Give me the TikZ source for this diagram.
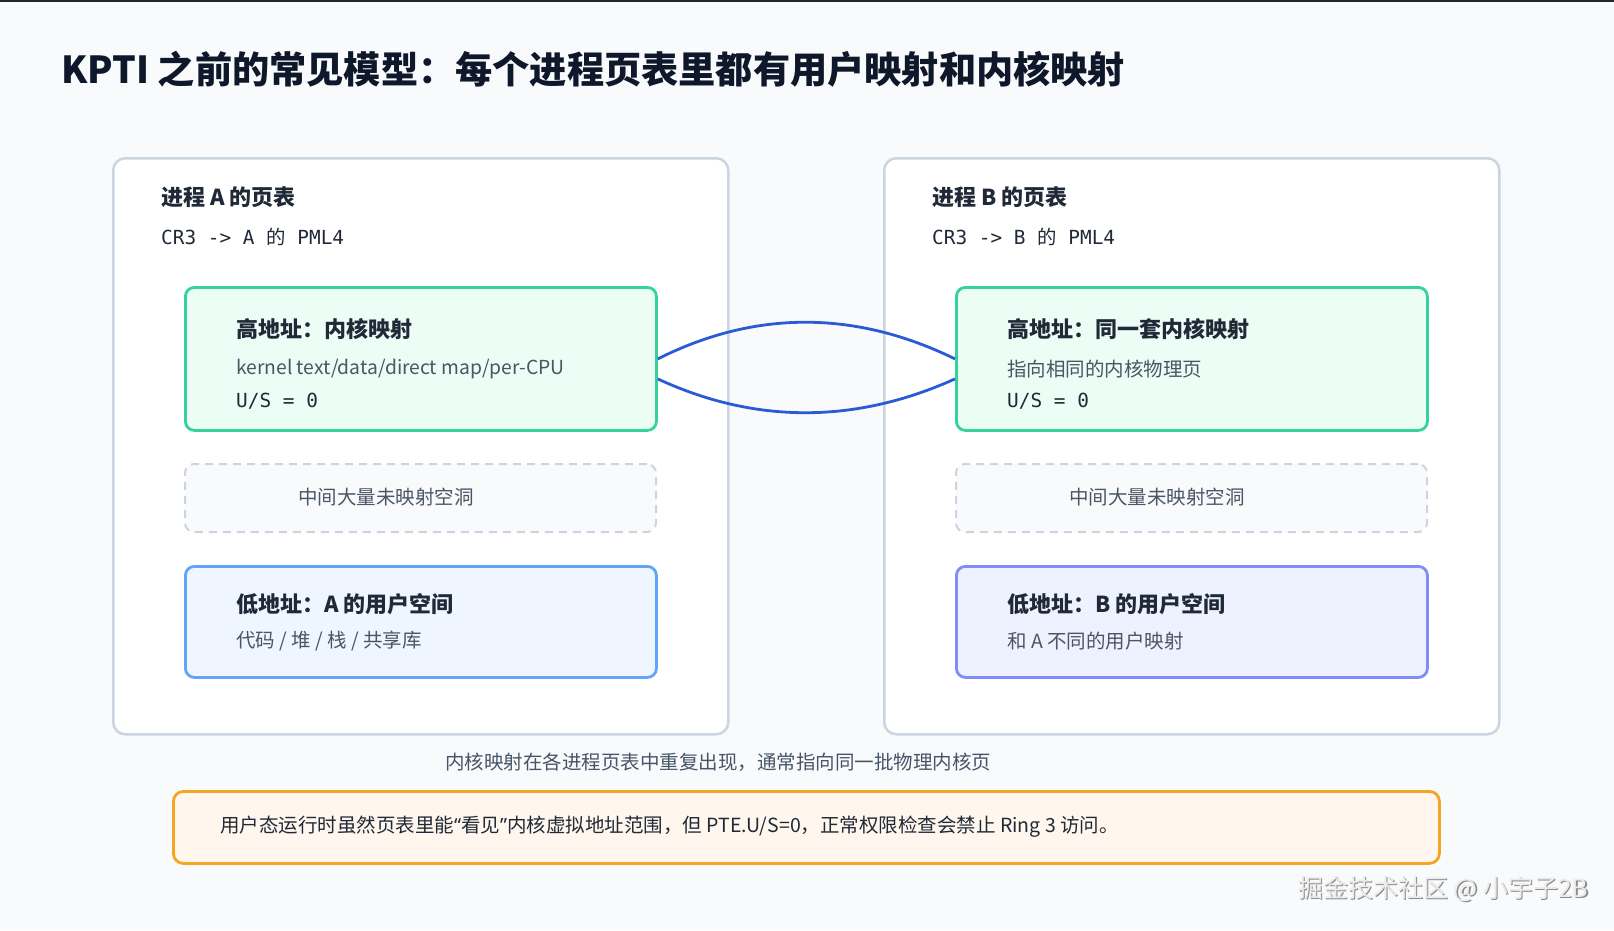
\documentclass[tikz,border=0pt]{standalone}
\usepackage{fontspec}
\setmainfont{Noto Sans CJK SC}
\newfontfamily\monof{DejaVu Sans Mono}
\newfontfamily\latinf{Noto Sans}
\definecolor{bg}{HTML}{F8FAFC}
\definecolor{panelborder}{HTML}{CBD5E1}
\definecolor{titlec}{HTML}{0F172A}
\definecolor{headc}{HTML}{1F2937}
\definecolor{subc}{HTML}{4B5563}
\definecolor{greenfill}{HTML}{ECFDF5}
\definecolor{greenline}{HTML}{34D399}
\definecolor{bluefill}{HTML}{EFF6FF}
\definecolor{blueline}{HTML}{60A5FA}
\definecolor{purplefill}{HTML}{EEF2FF}
\definecolor{purpleline}{HTML}{818CF8}
\definecolor{orangefill}{HTML}{FFF7ED}
\definecolor{orangeline}{HTML}{F5A524}
\definecolor{curvec}{HTML}{2A5BD7}
\definecolor{capc}{HTML}{475569}
\begin{document}
\begin{tikzpicture}[x=1pt,y=-1pt,
  panel/.style={draw=panelborder,line width=2.5pt,fill=white,rounded corners=12pt,anchor=north west,inner sep=0pt},
  region/.style={line width=2.8pt,rounded corners=9pt,anchor=north west,inner sep=0pt,minimum width=471pt},
  hole/.style={draw=panelborder,line width=2pt,dash pattern=on 8pt off 6pt,fill=bg,rounded corners=9pt,anchor=north west,inner sep=0pt,minimum width=471pt,minimum height=68pt},
  txt/.style={anchor=west,inner sep=0pt},
  ptitle/.style={txt,text=headc,font=\fontsize{22}{26}\selectfont\bfseries},
  mono/.style={txt,text=headc,font=\fontsize{19.4}{23}\selectfont\monof},
  sub/.style={txt,text=subc,font=\fontsize{19.5}{23}\selectfont},
  curve/.style={draw=curvec,line width=2.8pt}]
\useasboundingbox (0,0) rectangle (1614,930);
\fill[bg] (0,0) rectangle (1614,930);
\fill[black!85] (0,0) rectangle (1614,2);
% title
\node[txt,text=titlec,font=\fontsize{37.2}{44}\selectfont\bfseries] (title) at (61,69) {KPTI 之前的常见模型：每个进程页表里都有用户映射和内核映射};
% panels
\node[panel,minimum width=615pt,minimum height=576pt] (pa) at (112,157) {};
\node[panel,minimum width=615pt,minimum height=576pt] (pb) at (883,157) {};
\node[ptitle] (pat) at (161,197) {进程 A 的页表};
\node[mono] (pam) at (161,237) {CR3 -> A {\rmfamily 的} PML4};
\node[ptitle] (pbt) at (932,197) {进程 B 的页表};
\node[mono] (pbm) at (932,237) {CR3 -> B {\rmfamily 的} PML4};
% high regions
\node[region,draw=greenline,fill=greenfill,minimum height=143pt] (ga) at (184,286) {};
\node[region,draw=greenline,fill=greenfill,minimum height=143pt] (gb) at (955,286) {};
\node[ptitle] (gat) at (236,329) {高地址：内核映射};
\node[sub,font=\fontsize{19.3}{23}\selectfont] (gas) at (236,369) {kernel text/data/direct map/per-CPU};
\node[mono] (gau) at (236,401) {U/S = 0};
\node[ptitle] (gbt) at (1007,329) {高地址：同一套内核映射};
\node[sub] (gbs) at (1007,369) {指向相同的内核物理页};
\node[mono] (gbu) at (1007,401) {U/S = 0};
% holes
\node[hole] (ha) at (184,463) {};
\node[hole] (hb) at (955,463) {};
\node[sub] (hat) at (298,497) {中间大量未映射空洞};
\node[sub] (hbt) at (1069,497) {中间大量未映射空洞};
% low regions
\node[region,draw=blueline,fill=bluefill,minimum height=111pt] (la) at (184,565) {};
\node[region,draw=purpleline,fill=purplefill,minimum height=111pt] (lb) at (955,565) {};
\node[ptitle] (lat) at (236,604) {低地址：A 的用户空间};
\node[sub] (las) at (236,641) {代码 / 堆 / 栈 / 共享库};
\node[ptitle] (lbt) at (1007,604) {低地址：B 的用户空间};
\node[sub] (lbs) at (1007,641) {和 A 不同的用户映射};
% curves
\draw[curve] (ga.east) .. controls (755,310) and (855,310) .. (gb.west);
\draw[curve] ([yshift=-20pt]ga.east) .. controls (755,424) and (855,424) .. ([yshift=-20pt]gb.west);
% caption
\node[anchor=center,inner sep=0pt,text=capc,font=\fontsize{19.5}{23}\selectfont] (cap) at (718,762) {内核映射在各进程页表中重复出现，通常指向同一批物理内核页};
% note
\node[anchor=north west,inner sep=0pt,draw=orangeline,fill=orangefill,line width=2.8pt,rounded corners=10pt,minimum width=1266pt,minimum height=72pt] (note) at (172,790) {};
\node[txt,text=headc,font=\fontsize{19.5}{23}\selectfont] (notet) at (220,827) {用户态运行时虽然页表里能{\latinf “}看见{\latinf ”}内核虚拟地址范围，但 PTE.U/S=0，正常权限检查会禁止 Ring 3 访问。};
% watermark
\node[txt,text=black!45,font=\fontsize{25}{30}\selectfont] (wms) at (1299.5,890.5) {掘金技术社区 @ 小宇子2B};
\node[txt,text=white!92!black,font=\fontsize{25}{30}\selectfont] (wm) at (1298,889) {掘金技术社区 @ 小宇子2B};
\end{tikzpicture}
\end{document}
